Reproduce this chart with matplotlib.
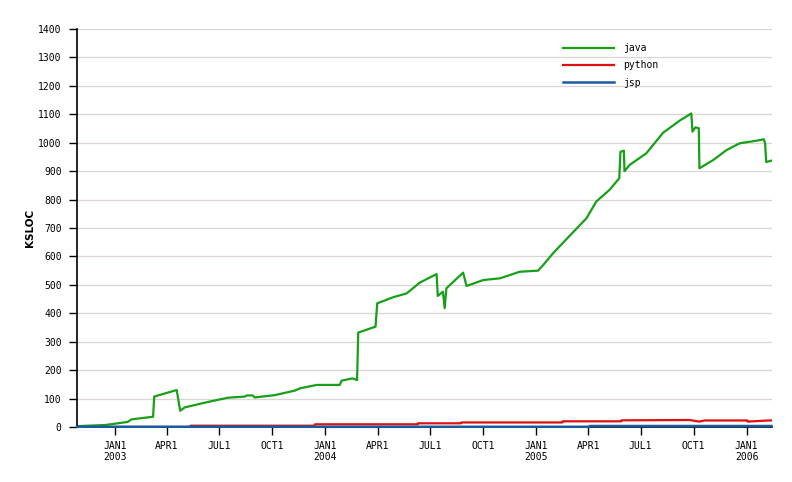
import matplotlib
matplotlib.use("Agg")
import matplotlib.pyplot as plt
import pandas as pd

# KSLOC over time
java_dates = ["2002-10-27", "2002-12-15", "2003-01-06", "2003-01-23", "2003-01-30",
              "2003-03-08", "2003-03-10", "2003-03-25", "2003-04-18", "2003-04-24",
              "2003-05-02", "2003-06-11", "2003-07-16", "2003-08-14", "2003-08-18",
              "2003-08-28", "2003-08-31", "2003-10-05", "2003-11-09", "2003-11-18",
              "2003-12-17", "2004-01-26", "2004-01-29", "2004-02-17", "2004-02-25",
              "2004-02-27", "2004-03-28", "2004-03-31", "2004-04-27", "2004-05-21",
              "2004-06-13", "2004-07-12", "2004-07-14", "2004-07-23", "2004-07-26",
              "2004-07-29", "2004-08-27", "2004-09-02", "2004-10-01", "2004-10-30",
              "2004-12-03", "2005-01-04", "2005-01-13", "2005-01-30", "2005-03-01",
              "2005-03-29", "2005-04-15", "2005-05-08", "2005-05-25", "2005-05-27",
              "2005-06-02", "2005-06-03", "2005-06-12", "2005-07-11", "2005-08-09",
              "2005-09-07", "2005-09-27", "2005-09-29", "2005-10-04", "2005-10-10",
              "2005-10-11", "2005-11-04", "2005-11-27", "2005-12-20", "2006-01-18",
              "2006-01-31", "2006-02-02", "2006-02-04", "2006-02-13"]
java_vals = [3, 7, 13, 18, 27,
             36, 107, 116, 130, 57,
             69, 88, 103, 107, 111,
             111, 104, 112, 128, 136,
             148, 148, 163, 171, 165,
             332, 353, 435, 456, 470,
             508, 538, 461, 476, 418,
             488, 543, 496, 517, 523,
             546, 550, 570, 611, 675,
             734, 793, 834, 875, 968,
             972, 900, 922, 963, 1035,
             1078, 1103, 1039, 1054, 1051,
             910, 939, 974, 998, 1007,
             1012, 998, 932, 937]

python_dates = ["2002-10-27", "2003-05-11", "2003-05-12", "2003-12-13", "2003-12-14",
                "2004-06-09", "2004-06-10", "2004-08-23", "2004-08-24", "2005-02-15",
                "2005-02-16", "2005-05-28", "2005-05-29", "2005-09-24", "2005-10-11",
                "2005-10-20", "2006-01-02", "2006-01-03", "2006-02-07", "2006-02-13"]
python_vals = [0, 0, 4.5, 4.5, 9.5,
               9.5, 13, 13, 16, 16,
               20, 20, 23.5, 24.6, 19,
               23, 23, 19, 23, 23]

jsp_dates = ["2002-10-27", "2005-04-03", "2005-04-04", "2006-02-13"]
jsp_vals = [0.8, 0.8, 3.5, 3.5]

tick_dates = ["2003-01-01", "2003-04-01", "2003-07-01", "2003-10-01",
              "2004-01-01", "2004-04-01", "2004-07-01", "2004-10-01",
              "2005-01-01", "2005-04-01", "2005-07-01", "2005-10-01",
              "2006-01-01"]
tick_labels = ["JAN1\n2003", "APR1", "JUL1", "OCT1",
               "JAN1\n2004", "APR1", "JUL1", "OCT1",
               "JAN1\n2005", "APR1", "JUL1", "OCT1",
               "JAN1\n2006"]

mono = "DejaVu Sans Mono"

fig = plt.figure(figsize=(7.92, 4.82), dpi=100)
ax = fig.add_axes([77 / 792, 55 / 482, 695 / 792, 398 / 482])

ax.plot(pd.to_datetime(java_dates), java_vals, color="#17a017", lw=1.6, label="java")
ax.plot(pd.to_datetime(python_dates), python_vals, color="#dd1111", lw=1.6, label="python")
ax.plot(pd.to_datetime(jsp_dates), jsp_vals, color="#1a5aa0", lw=1.8, label="jsp",
        clip_on=False, zorder=5)

ax.set_xlim(pd.Timestamp("2002-10-27"), pd.Timestamp("2006-02-14"))
ax.set_ylim(0, 1400)
ax.set_yticks(range(0, 1401, 100))
ax.set_xticks(pd.to_datetime(tick_dates))
ax.set_xticklabels(tick_labels, fontfamily=mono, fontsize=7)
for t in ax.get_yticklabels():
    t.set_fontfamily(mono)
    t.set_fontsize(7)

ax.yaxis.grid(True, color="#dcd4d2", lw=0.9)
ax.set_axisbelow(True)
for s in ["top", "right"]:
    ax.spines[s].set_visible(False)
ax.spines["left"].set_linewidth(1.2)
ax.spines["bottom"].set_linewidth(1.2)
ax.tick_params(axis="y", length=6, width=1, pad=5)
ax.tick_params(axis="x", length=6, width=1, pad=4)

ax.set_ylabel("KSLOC", fontsize=7.5, fontweight="bold", labelpad=2)

ax.legend(loc="upper left", bbox_to_anchor=(0.699, 0.965), frameon=False,
          prop={"family": mono, "size": 7}, handlelength=5.3, handletextpad=0.9,
          labelspacing=0.75, borderpad=0, borderaxespad=0)

fig.savefig("out.png", dpi=100)
